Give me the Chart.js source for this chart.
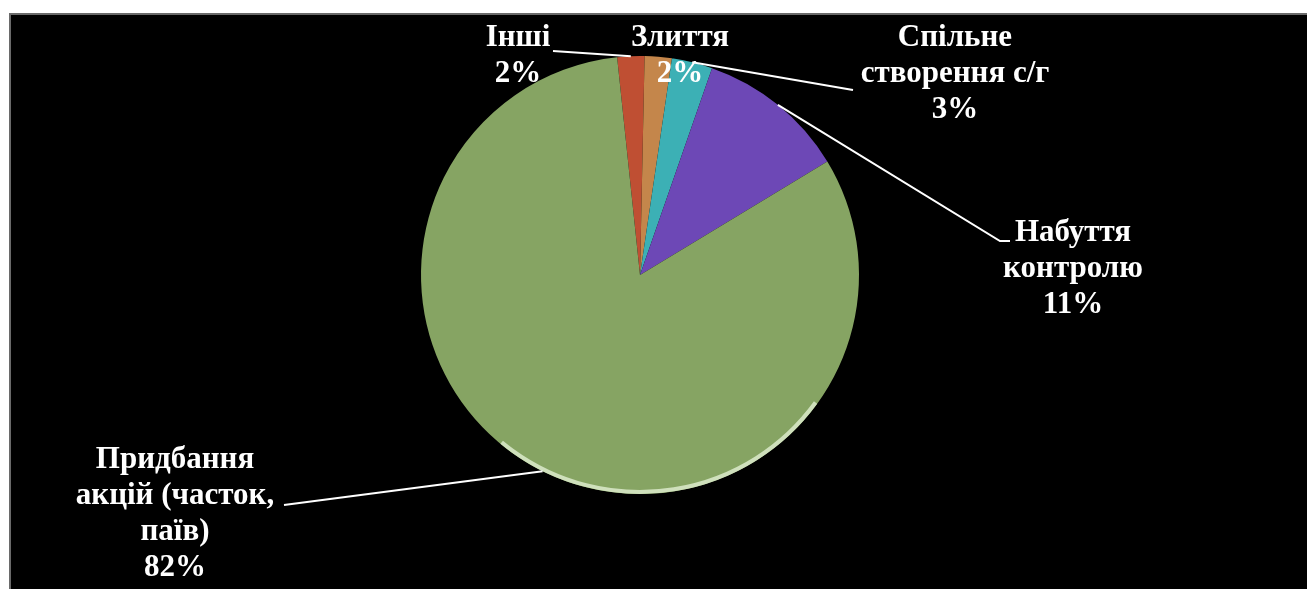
<!DOCTYPE html>
<html>
<head>
<meta charset="utf-8">
<script src="https://cdn.jsdelivr.net/npm/chart.js"></script>
<style>
  html, body { margin: 0; background: #fff; }
  canvas { display: block; }
</style>
</head>
<body>
<canvas id="pie" width="1307" height="589"></canvas>
<script>
// data, clockwise from the top
const categories = ["Інші", "Злиття", "Спільне створення с/г", "Набуття контролю", "Придбання акцій (часток, паїв)"];
const shares = [2, 2, 3, 11, 82];
const nameLines = [
    ["Інші"],
    ["Злиття"],
    ["Спільне", "створення с/г"],
    ["Набуття", "контролю"],
    ["Придбання", "акцій (часток,", "паїв)"],
];

const sliceColors = ["#bf4f33", "#c4864b", "#3cb0b5", "#6d48b6", "#86a463"];

// where each label sits and where its leader line ends (null = no leader)
const labelBoxes = [
    { x: 518, y: 38, leader: [[553, 51]] },
    { x: 680, y: 38, leader: null },
    { x: 955, y: 38, leader: [[853, 90]] },
    { x: 1073, y: 233, leader: [[1000, 241], [1010, 241]] },
    { x: 175, y: 460, leader: [[284, 505]] },
];

const frame = {
    id: "frame",
    beforeDraw(chart) {
        const ctx = chart.ctx;
        ctx.save();
        ctx.fillStyle = "#fff";
        ctx.fillRect(0, 0, chart.width, chart.height);
        ctx.fillStyle = "#000";
        ctx.fillRect(10, 14, chart.width - 10, chart.height - 14);
        ctx.strokeStyle = "#6a6a6a";
        ctx.lineWidth = 2;
        ctx.strokeRect(10, 14, chart.width + 10, chart.height + 10);
        ctx.restore();
    },
};

const callouts = {
    id: "callouts",
    afterDatasetsDraw(chart) {
        const ctx = chart.ctx;
        const arcs = chart.getDatasetMeta(0).data;
        ctx.save();

        // light rim along the lower edge (the 3d side of the original)
        const g = arcs[4];
        ctx.strokeStyle = "#cfe0bc";
        ctx.lineWidth = 4;
        ctx.beginPath();
        ctx.arc(g.x, g.y, g.outerRadius - 2, Math.PI * 0.2, Math.PI * 0.72);
        ctx.stroke();

        ctx.strokeStyle = "#fff";
        ctx.lineWidth = 2;
        arcs.forEach((a, i) => {
            const box = labelBoxes[i];
            if (!box.leader) return;
            const mid = (a.startAngle + a.endAngle) / 2;
            ctx.beginPath();
            ctx.moveTo(a.x + Math.cos(mid) * a.outerRadius, a.y + Math.sin(mid) * a.outerRadius);
            box.leader.forEach(p => ctx.lineTo(p[0], p[1]));
            ctx.stroke();
        });

        ctx.fillStyle = "#fff";
        ctx.font = "bold 31px 'Liberation Serif', 'Times New Roman', serif";
        ctx.textAlign = "center";
        ctx.textBaseline = "middle";
        arcs.forEach((a, i) => {
            const box = labelBoxes[i];
            const lines = nameLines[i].concat([shares[i] + "%"]);
            lines.forEach((t, k) => ctx.fillText(t, box.x, box.y + k * 36));
        });
        ctx.restore();
    },
};

new Chart(document.getElementById("pie"), {
    type: "pie",
    data: {
        labels: categories,
        datasets: [{
            data: shares,
            backgroundColor: sliceColors,
            borderWidth: 0,
        }],
    },
    options: {
        responsive: false,
        animation: false,
        rotation: -6,
        layout: { padding: { top: 56, bottom: 95, left: 0, right: 27 } },
        plugins: {
            legend: { display: false },
            tooltip: { enabled: false },
        },
    },
    plugins: [frame, callouts],
});
</script>
</body>
</html>
